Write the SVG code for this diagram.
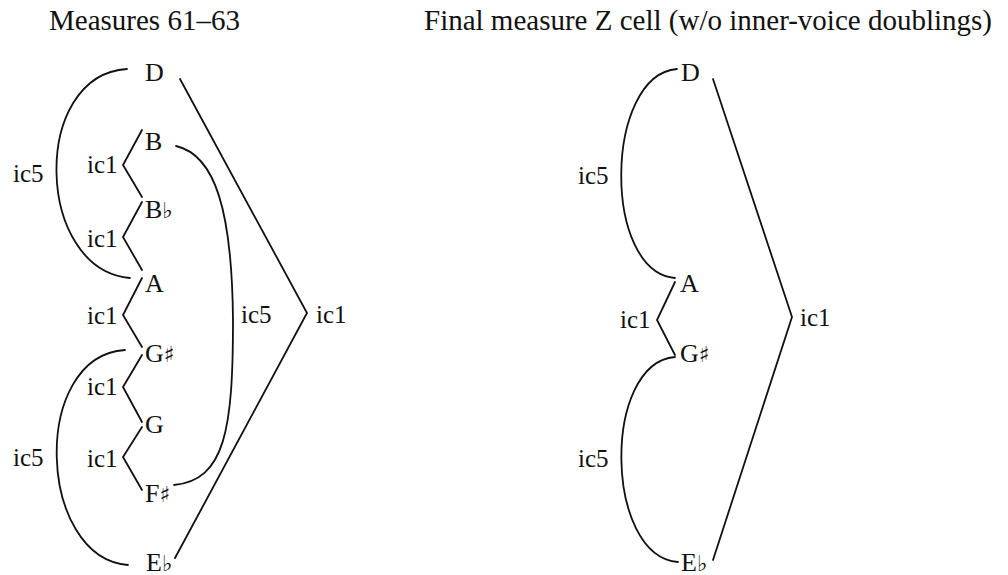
<svg xmlns="http://www.w3.org/2000/svg" width="1008" height="575" viewBox="0 0 1008 575">
<style>
text{font-family:"Liberation Serif","Times New Roman","DejaVu Serif",serif;fill:#111;}
.t{font-size:29px;}
.n{font-size:26px;}
.l{font-size:25px;}
.acc{font-family:"DejaVu Serif","DejaVu Sans",serif;font-size:22px;}
.c{fill:none;stroke:#111;stroke-width:1.8;stroke-linecap:round;stroke-linejoin:miter;}
</style>
<rect width="1008" height="575" fill="#fff"/>
<g id="titles">
<text class="t" x="49" y="30">Measures 61–63</text>
<text class="t" x="424" y="30">Final measure Z cell (w/o inner-voice doublings)</text>
</g>
<g id="connectors" class="c">
<path d="M127,69 C30,75 35,270 130,278"/>
<path d="M125,350 C30,356 37,558 128,565"/>
<path d="M176,146 C215,155 232,210 233,320 C233,430 225,480 174,485"/>
<path d="M180,79 L307,313 L175,558"/>
<path d="M142,130 L123,165 L142,197"/>
<path d="M142,202 L123,237 L142,270"/>
<path d="M142,278 L123,315 L142,347"/>
<path d="M142,355 L123,387 L142,422"/>
<path d="M142,427 L123,457 L142,490"/>
<path d="M677,69 C604,75 602,272 675,278"/>
<path d="M675,357 C602,363 604,556 678,562"/>
<path d="M675,282 L657,320 L675,355"/>
<path d="M713,79 L792,317 L713,560"/>
</g>
<g id="labels">
<text class="l" x="13" y="182">ic5</text>
<text class="l" x="13" y="466">ic5</text>
<text class="l" x="87" y="173">ic1</text>
<text class="l" x="87" y="247">ic1</text>
<text class="l" x="87" y="324">ic1</text>
<text class="l" x="87" y="395">ic1</text>
<text class="l" x="87" y="467">ic1</text>
<text class="l" x="241" y="323">ic5</text>
<text class="l" x="316" y="323">ic1</text>
<text class="l" x="578" y="184">ic5</text>
<text class="l" x="620" y="328">ic1</text>
<text class="l" x="578" y="467">ic5</text>
<text class="l" x="800" y="326">ic1</text>
</g>
<g id="m61-D"><text class="n" x="145" y="81">D</text></g>
<g id="m61-B"><text class="n" x="145" y="150">B</text></g>
<g id="m61-Bb"><text class="n" x="145" y="218">B<tspan class="acc">♭</tspan></text></g>
<g id="m61-A"><text class="n" x="145" y="292">A</text></g>
<g id="m61-Gs"><text class="n" x="145" y="362">G<tspan class="acc">♯</tspan></text></g>
<g id="m61-G"><text class="n" x="145" y="433">G</text></g>
<g id="m61-Fs"><text class="n" x="145" y="502">F<tspan class="acc">♯</tspan></text></g>
<g id="m61-Eb"><text class="n" x="146" y="571">E<tspan class="acc">♭</tspan></text></g>
<g id="z-D"><text class="n" x="681" y="81">D</text></g>
<g id="z-A"><text class="n" x="680" y="292">A</text></g>
<g id="z-Gs"><text class="n" x="680" y="362">G<tspan class="acc">♯</tspan></text></g>
<g id="z-Eb"><text class="n" x="681" y="571">E<tspan class="acc">♭</tspan></text></g>
</svg>
